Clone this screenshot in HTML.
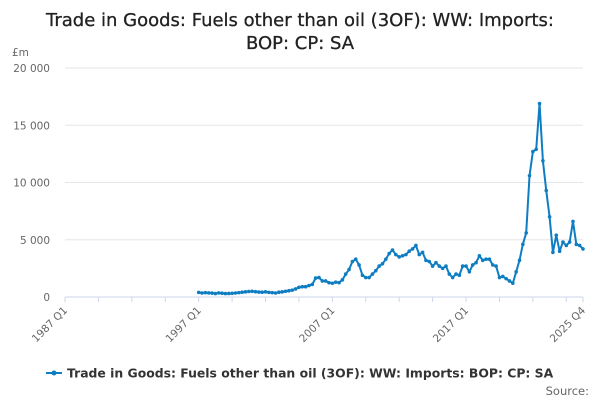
<!DOCTYPE html>
<html><head><meta charset="utf-8"><style>
body{margin:0;background:#fff;font-family:"DejaVu Sans","Liberation Sans",sans-serif}
</style></head><body>
<svg width="600" height="400" viewBox="0 0 600 400" xmlns="http://www.w3.org/2000/svg" font-family="DejaVu Sans, Liberation Sans, sans-serif">
<text x="300" y="26" text-anchor="middle" font-size="18" fill="#222" stroke="#222" stroke-width="0.3">Trade in Goods: Fuels other than oil (3OF): WW: Imports:</text>
<text x="300" y="49" text-anchor="middle" font-size="18" fill="#222" stroke="#222" stroke-width="0.3">BOP: CP: SA</text>
<text x="12" y="56" font-size="10.5" fill="#666">£m</text>
<g id="grid"></g><g id="xaxis"></g><g id="series"></g>
<g>
<line x1="46" y1="373" x2="62" y2="373" stroke="#0e7dc2" stroke-width="2"/>
<circle cx="54" cy="373" r="2.5" fill="#0e7dc2"/>
<text x="67" y="377.5" font-size="12.4" font-weight="bold" fill="#333">Trade in Goods: Fuels other than oil (3OF): WW: Imports: BOP: CP: SA</text>
</g>
<text x="589" y="395" text-anchor="end" font-size="11.5" fill="#666">Source:</text>
</svg>
<script>
const yTicks=[0,5000,10000,15000,20000];
const yTickLabels=["0","5 000","10 000","15 000","20 000"];
const xTickLabels=["1987 Q1","1997 Q1","2007 Q1","2017 Q1","2025 Q4"];
const xTickIndex=[0,40,80,120,155];
const startIndex=40;
const values=[400,350,380,360,340,300,360,330,300,310,320,350,380,420,450,480,500,460,430,420,450,400,380,350,420,450,500,550,
600,700,850,900,900,1000,1100,1650,
1700,1400,1400,1250,1200,1300,1250,1500,2000,2400,
3100,3300,2800,1900,1700,1700,2000,2300,2700,2900,3300,3800,4100,3700,3500,3600,3700,4000,4200,4500,3700,3900,3200,3100,2700,3000,2700,2500,2700,2000,1700,2000,1900,2700,2700,2200,2800,3000,3600,3200,3300,3300,2800,2700,1700,1800,1600,1400,1200,2200,3200,4600,5600,10600,12700,12900,16900,11900,9300,7000,3900,5400,4000,4800,4500,4800,6600,4600,4500,4200];
const NS="http://www.w3.org/2000/svg";
const x0=65,x1=583,nQ=155,y0=297,y1=68,yMax=20000;
const xs=i=>x0+(x1-x0)*i/nQ;
const ys=v=>y0-(y0-y1)*v/yMax;
function mk(t,a,p){const e=document.createElementNS(NS,t);for(const k in a)e.setAttribute(k,a[k]);p.appendChild(e);return e;}
const grid=document.getElementById('grid');
yTicks.forEach((v,i)=>{
 const l=mk('line',{x1:x0,x2:x1,y1:ys(v),y2:ys(v),stroke:v===0?'#ccd6eb':'#e6e6e6','stroke-width':1},grid);
 
 
 const t=mk('text',{x:50,y:ys(v)+4,'text-anchor':'end','font-size':10.5,fill:'#666'},grid);
 t.textContent=yTickLabels[i];
 
 
});
const xa=document.getElementById('xaxis');
for(let i=0;i<=nQ;i+=10){const l=mk('line',{x1:xs(i),x2:xs(i),y1:y0,y2:y0+5,stroke:'#ccd6eb'},xa);
 
 }
mk('line',{x1:x1,x2:x1,y1:y0,y2:y0+5,stroke:'#ccd6eb'},xa);
xTickIndex.forEach((q,i)=>{
 const x=xs(q);
 const t=mk('text',{x:x+3,y:y0+14,'text-anchor':'end','font-size':10.5,fill:'#666',transform:`rotate(-45 ${x+3} ${y0+14})`},xa);
 t.textContent=xTickLabels[i];
 
 
});
const s=document.getElementById('series');
const pts=values.map((v,i)=>[xs(startIndex+i),ys(v)]);
const pl=mk('polyline',{points:pts.map(p=>p.join(',')).join(' '),fill:'none',stroke:'#0e7dc2','stroke-width':2,'stroke-linejoin':'round'},s);


pts.forEach(p=>{const c=mk('circle',{cx:p[0],cy:p[1],r:1.8,fill:'#0e7dc2'},s);
 
 });
</script>
</body></html>
